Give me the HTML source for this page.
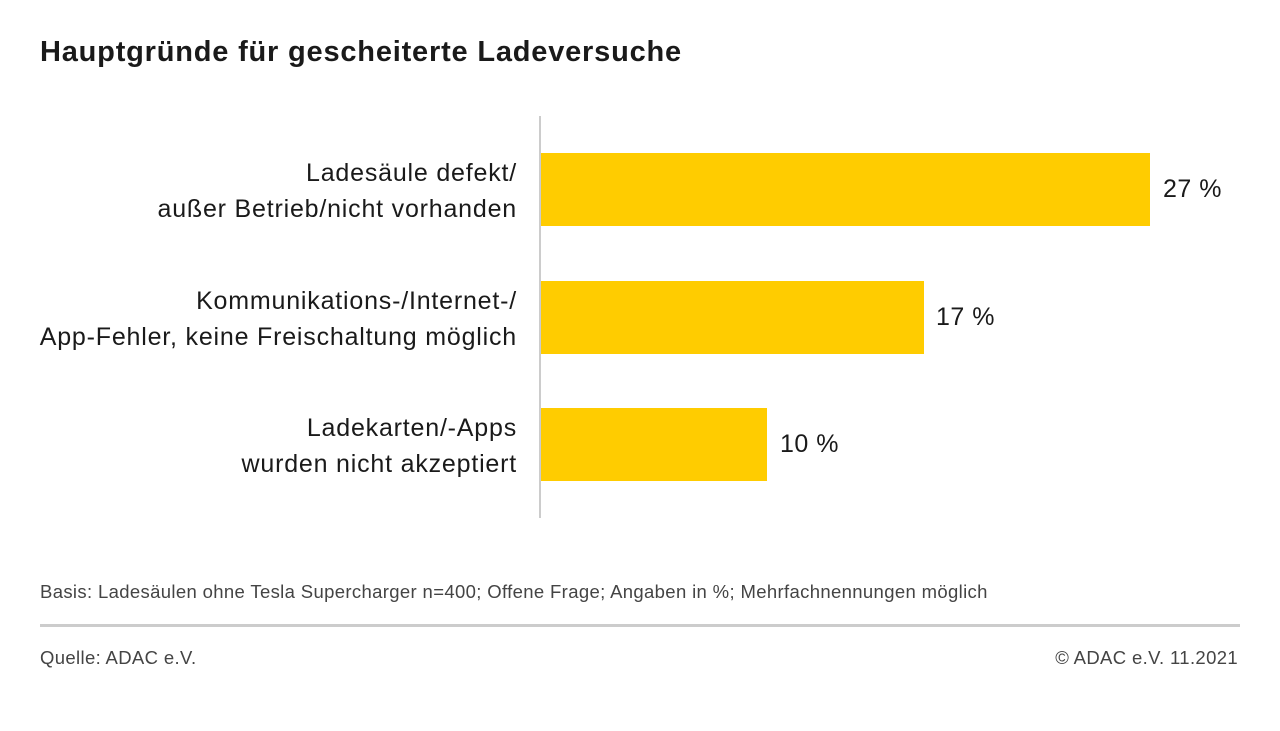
<!DOCTYPE html>
<html><head><meta charset="utf-8"><style>
body{margin:0;width:1280px;height:731px;background:#fff;font-family:"Liberation Sans",sans-serif;color:#1a1a1a;position:relative;overflow:hidden}
.a{position:absolute;white-space:nowrap}
.t{left:40px;top:36px;font-size:29px;font-weight:bold;letter-spacing:0.8px}
.l{right:763px;font-size:25px;letter-spacing:0.8px;text-align:right;line-height:36px}
.bar{position:absolute;left:541px;background:#FFCC00;height:73px}
.v{font-size:25px;letter-spacing:0.5px}
.f{font-size:18.5px;letter-spacing:0.35px;color:#444}
</style></head><body>
<div class="a t">Hauptgründe für gescheiterte Ladeversuche</div>
<div class="a" style="left:539px;top:116px;width:2px;height:402px;background:#ccc"></div>
<div class="bar" style="top:153px;width:609px"></div>
<div class="bar" style="top:281px;width:383px"></div>
<div class="bar" style="top:408px;width:226px"></div>
<div class="a l" style="top:155px">Ladesäule defekt/<br>außer Betrieb/nicht vorhanden</div>
<div class="a l" style="top:283px">Kommunikations-/Internet-/<br>App-Fehler, keine Freischaltung möglich</div>
<div class="a l" style="top:410px">Ladekarten/-Apps<br>wurden nicht akzeptiert</div>
<div class="a v" style="left:1163px;top:175px">27 %</div>
<div class="a v" style="left:936px;top:303px">17 %</div>
<div class="a v" style="left:780px;top:430px">10 %</div>
<div class="a f" style="left:40px;top:581px">Basis: Ladesäulen ohne Tesla Supercharger n=400; Offene Frage; Angaben in %; Mehrfachnennungen möglich</div>
<div class="a" style="left:40px;top:624px;width:1200px;height:3px;background:#ccc"></div>
<div class="a f" style="left:40px;top:647px">Quelle: ADAC e.V.</div>
<div class="a f" style="right:42px;top:647px">© ADAC e.V. 11.2021</div>
</body></html>
